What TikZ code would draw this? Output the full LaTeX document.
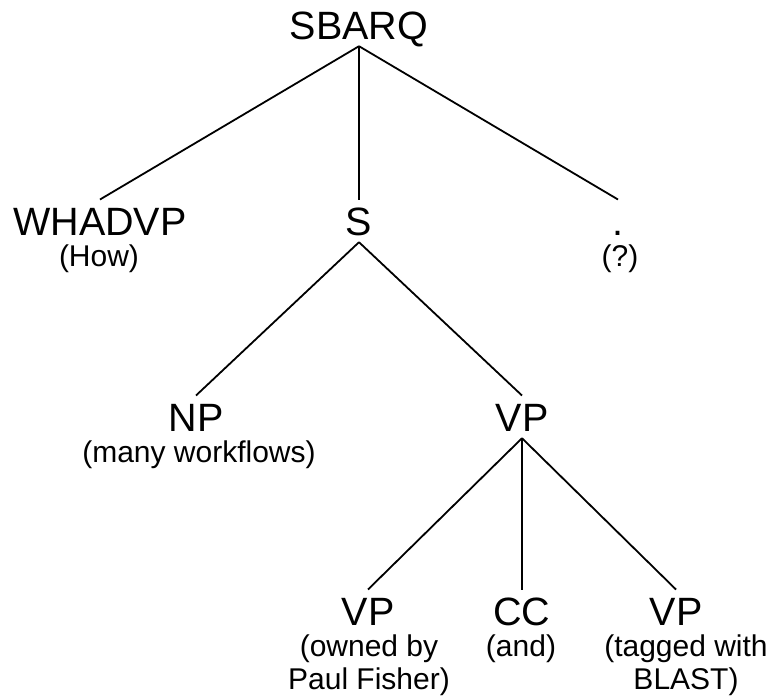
\documentclass[tikz,border=0pt]{standalone}
\usepackage{fontspec}
\setmainfont{Liberation Sans}

\begin{document}
\begin{tikzpicture}[x=1pt,y=-1pt,
    cat/.style={font=\fontsize{39.5}{44}\selectfont, inner xsep=0pt, inner ysep=7pt,
        text height=28.3pt, text depth=0pt, anchor=base},
    word/.style={font=\fontsize{30}{33}\selectfont, align=center, inner sep=0pt, anchor=north},
    branch/.style={line width=1.8pt}]
    \useasboundingbox (0,0) rectangle (771,696);
    % categories
    \node[cat] (sbarq) at (359,39) {SBARQ};
    \node[cat] (whadvp) at (100,235) {WHADVP};
    \node[cat] (s) at (359,235) {S};
    \node[cat] (punct) at (618,235) {.};
    \node[cat] (np) at (196,431) {NP};
    \node[cat] (vp) at (522,431) {VP};
    \node[cat] (vpowned) at (368,625) {VP};
    \node[cat] (cc) at (522,625) {CC};
    \node[cat] (vptagged) at (676,625) {VP};
    % words
    \node[word] (how) at (99,245) {(How)};
    \node[word] (qmark) at (620,245) {(?)};
    \node[word] (workflows) at (199,441) {(many workflows)};
    \node[word] (owned) at (369,635) {(owned by\\Paul Fisher)};
    \node[word] (and) at (521,635) {(and)};
    \node[word] (tagged) at (686,635) {(tagged with\\BLAST)};
    % branches
    \draw[branch] (sbarq.south) -- (whadvp.north);
    \draw[branch] (sbarq.south) -- (s.north);
    \draw[branch] (sbarq.south) -- (punct.north);
    \draw[branch] (s.south) -- (np.north);
    \draw[branch] (s.south) -- (vp.north);
    \draw[branch] (vp.south) -- (vpowned.north);
    \draw[branch] (vp.south) -- (cc.north);
    \draw[branch] (vp.south) -- (vptagged.north);
\end{tikzpicture}
\end{document}
